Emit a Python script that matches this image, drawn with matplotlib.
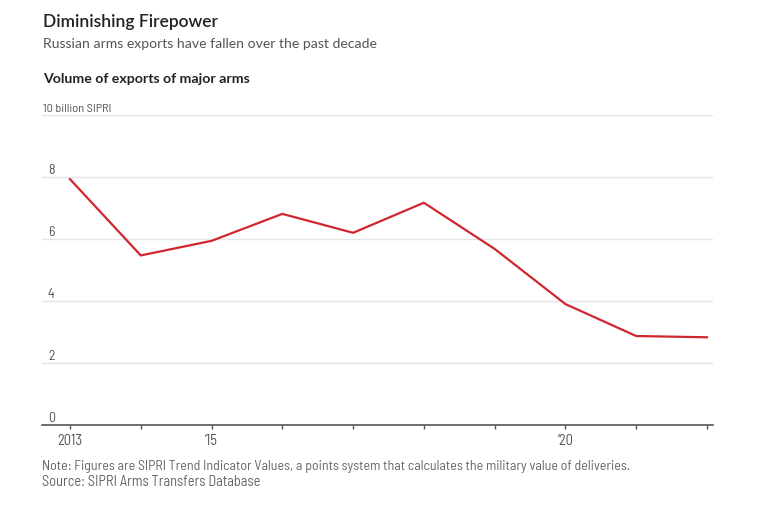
import matplotlib
matplotlib.use("Agg")
import matplotlib.pyplot as plt
from matplotlib import font_manager

# Data
years = [2013, 2014, 2015, 2016, 2017, 2018, 2019, 2020, 2021, 2022]
exports = [7.93, 5.47, 5.94, 6.81, 6.20, 7.17, 5.68, 3.90, 2.87, 2.83]
y_ticks = [0, 2, 4, 6, 8, 10]
y_labels = ["0", "2", "4", "6", "8", "10 billion SIPRI"]
x_ticks = years
x_labels = ["2013", "", "\u201915", "", "", "", "", "\u201920", "", ""]

names = {f.name for f in font_manager.fontManager.ttflist}
narrow = ["Barlow Semi Condensed", "DejaVu Sans"] if "Barlow Semi Condensed" in names else ["DejaVu Sans"]
plt.rcParams["font.family"] = ["Lato", "DejaVu Sans"]

W, H = 764, 508
fig = plt.figure(figsize=(W / 100, H / 100), dpi=100)
left, right, top, bottom = 42, 713, 115, 425
ax = fig.add_axes([left / W, 1 - bottom / H, (right - left) / W, (bottom - top) / H])

ax.plot(years, exports, color="#d0262e", lw=1.6, solid_joinstyle="miter", zorder=3)

ax.set_ylim(0, 10)
ax.set_xlim(2013 - 28 / 70.8, 2022 + 6 / 70.8)

for s in ["top", "right", "left"]:
    ax.spines[s].set_visible(False)
ax.spines["bottom"].set_color("#555555")
ax.spines["bottom"].set_linewidth(1.2)
ax.spines["bottom"].set_zorder(4)

ax.set_yticks(y_ticks)
ax.set_yticklabels([])
ax.tick_params(axis="y", length=0)
ax.grid(axis="y", color="#e5e5e5", lw=1)
ax.set_axisbelow(True)

ax.set_xticks(x_ticks)
ax.set_xticklabels(x_labels, fontsize=9.5, color="#555555", family=narrow)
ax.tick_params(axis="x", length=3, width=1, color="#555555", pad=3.5)

ylabs = []
for v, lab in zip(y_ticks, y_labels):
    xoff = 1 / (right - left) if v == 10 else 6 / (right - left)
    t = ax.text(xoff, v + 0.09, lab, transform=ax.get_yaxis_transform(),
                ha="left", va="baseline", fontsize=10, color="#555555", family=narrow)
    ylabs.append(t)

def px(y):
    return 1 - y / H

title = fig.text(43 / W, px(27), "Diminishing Firepower", fontsize=12.5, color="#222222",
                 ha="left", va="baseline", fontweight="semibold")
sub = fig.text(43 / W, px(48), "Russian arms exports have fallen over the past decade",
               fontsize=10.5, color="#555555", ha="left", va="baseline")
vol = fig.text(43 / W, px(83), "Volume of exports of major arms", fontsize=10,
               fontweight="bold", color="#222222", ha="left", va="baseline")
note = fig.text(42 / W, px(470),
                "Note: Figures are SIPRI Trend Indicator Values, a points system that calculates the military value of deliveries.",
                fontsize=9.5, color="#666666", ha="left", va="baseline", family=narrow)
src = fig.text(42 / W, px(486), "Source: SIPRI Arms Transfers Database",
               fontsize=9.5, color="#666666", ha="left", va="baseline", family=narrow)

# scale text sizes so widths match the reference
fig.canvas.draw()
r = fig.canvas.get_renderer()
def fit(t, width):
    w = t.get_window_extent(r).width
    t.set_fontsize(t.get_fontsize() * width / w)

fit(title, 175)
fit(sub, 336)
fit(vol, 207)
fit(note, 586)
fit(src, 218)
fit(ylabs[-1], 68)
ref = ax.get_xticklabels()[0]
w = ref.get_window_extent(r).width
for t in ax.get_xticklabels():
    t.set_fontsize(t.get_fontsize() * 25 / w)

fig.savefig("out.png", dpi=100)
